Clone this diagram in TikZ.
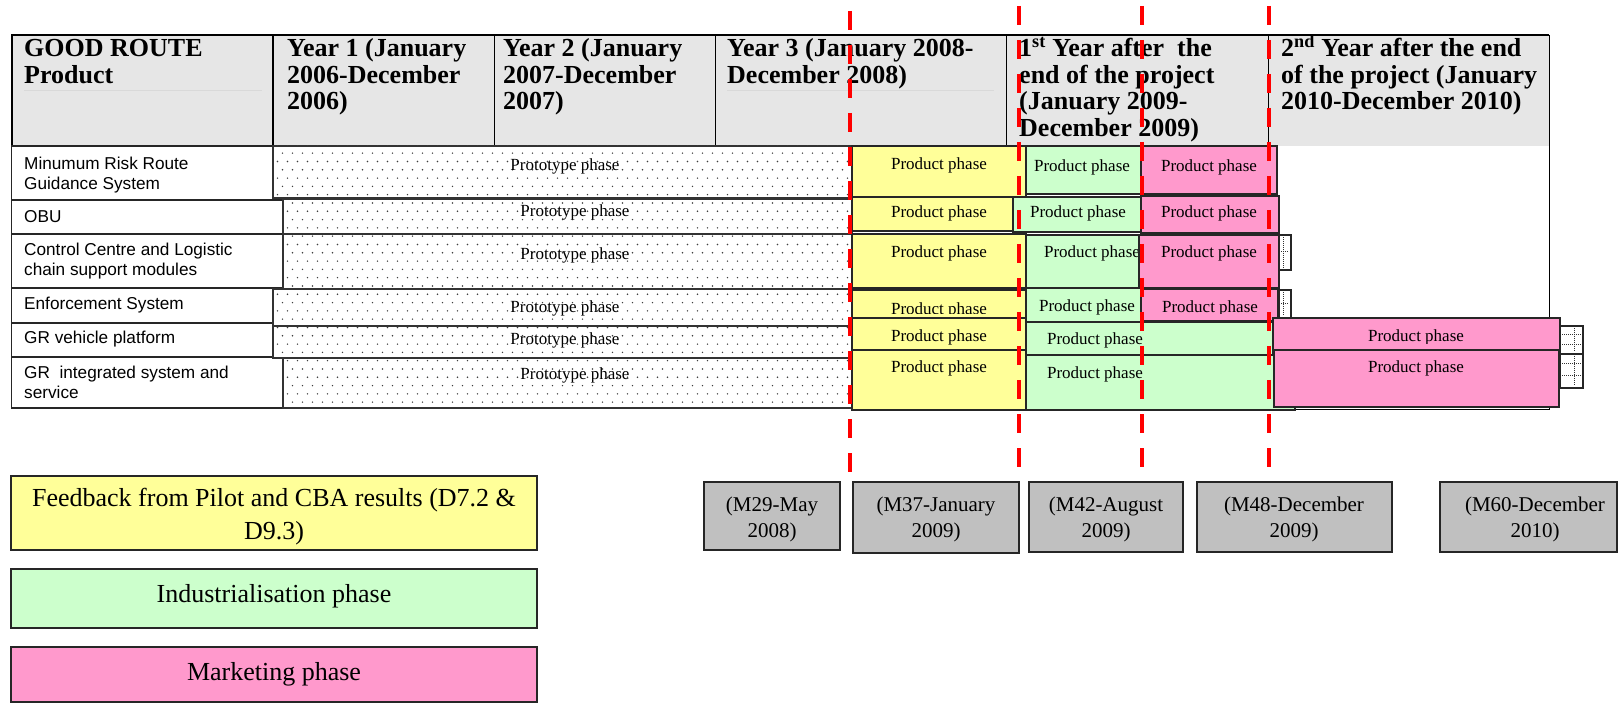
\documentclass[tikz,border=0pt]{standalone}
\usepackage{fontspec}
\setmainfont{Liberation Serif}
\newfontfamily\arialfont{Liberation Sans}
\usetikzlibrary{patterns}
\definecolor{ylw}{RGB}{255,255,153}
\definecolor{grn}{RGB}{204,255,204}
\definecolor{pnk}{RGB}{255,153,204}
\definecolor{hdr}{RGB}{230,230,230}
\definecolor{msg}{RGB}{192,192,192}
\pgfdeclarepatternformonly{protodots}{\pgfqpoint{-1pt}{-1pt}}{\pgfqpoint{11pt}{17.6pt}}{\pgfqpoint{10pt}{16.6pt}}{%
  \pgfpathcircle{\pgfqpoint{2.5pt}{2pt}}{0.8pt}%
  \pgfpathcircle{\pgfqpoint{7.5pt}{10.3pt}}{0.8pt}%
  \pgfusepath{fill}}
\newcommand\bx[6]{\node[#2,anchor=north west,inner sep=0pt,outer sep=0pt,minimum width={(#5-#3)*1pt},minimum height={(#6-#4)*1pt}] (#1) at (#3,#4) {};}
\newcommand\ml[1]{\parbox[t]{600pt}{\raggedright #1}}
\newcommand\mc[2]{\parbox[t]{#1}{\centering #2}}
\begin{document}
\begin{tikzpicture}[x=1pt,y=-1pt,
  box/.style={draw=black!85, line width=1.5pt},
  ybox/.style={box, fill=ylw},
  gbox/.style={box, fill=grn},
  pbox/.style={box, fill=pnk},
  lbox/.style={box, fill=white},
  mbox/.style={box, fill=msg},
  proto/.style={draw=black!80, line width=1.2pt, fill=white, postaction={pattern=protodots, pattern color=black!75}},
  tinybox/.style={draw=black!85, line width=1.2pt, fill=white},
  tinydots/.style={densely dotted, line width=1pt, black!80},
  ptext/.style={anchor=base, inner sep=0pt, font=\fontsize{17}{20}\selectfont},
  rtext/.style={anchor=base west, inner sep=0pt, font=\arialfont\fontsize{17.2}{20}\selectfont},
  htext/.style={anchor=base west, inner sep=0pt, font=\fontsize{26}{26.5}\selectfont\bfseries},
  mtext/.style={anchor=base, inner sep=0pt, font=\fontsize{21}{26}\selectfont},
  ltext/.style={anchor=base, inner sep=0pt, font=\fontsize{26}{33}\selectfont},
  redline/.style={draw=red, line width=4pt, dash pattern=on 19pt off 15pt},
  gridline/.style={draw=black, line width=1pt},
  thickline/.style={draw=black, line width=2pt},
]
\useasboundingbox (0,0) rectangle (1618,703);

% ---- table frame and header ----
\fill[hdr] (11.7,35) rectangle (1549,146);
\draw[gridline] (1549,35) -- (1549,409) -- (1294,409);
\draw[thickline] (11.7,409) -- (11.7,35) -- (1549,35);
\draw[thickline] (272.7,35) -- (272.7,146);
\draw[gridline] (494.5,35) -- (494.5,146);
\draw[gridline] (715,35) -- (715,146);
\draw[gridline] (1006,35) -- (1006,146);
\draw[gridline] (1268,35) -- (1268,146);
\draw[white!85!black, line width=0.6pt] (24,90) -- (262,90);
\draw[white!85!black, line width=0.6pt] (727,90) -- (994,90);

\node[htext] (h0) at (24,57) {\ml{GOOD ROUTE\\Product}};
\node[htext] (h1) at (287,57) {\ml{Year 1 (January\\2006-December\\2006)}};
\node[htext] (h2) at (503,57) {\ml{Year 2 (January\\2007-December\\2007)}};
\node[htext] (h3) at (727,57) {\ml{Year 3 (January 2008-\\December 2008)}};
\node[htext] (h4) at (1019,57) {\ml{1\textsuperscript{st} Year after\ \ the\\end of the project\\(January 2009-\\December 2009)}};
\node[htext] (h5) at (1281,57) {\ml{2\textsuperscript{nd} Year after the end\\of the project (January\\2010-December 2010)}};

% ---- row labels ----
\bx{L1}{lbox}{11.7}{146}{273}{200}
\bx{L2}{lbox}{11.7}{200}{283}{234}
\bx{L3}{lbox}{11.7}{234}{283}{288}
\bx{L4}{lbox}{11.7}{288}{273}{323}
\bx{L5}{lbox}{11.7}{323}{273}{357}
\bx{L6}{lbox}{11.7}{357}{283}{408}
\node[rtext] (l1) at (24,170) {\ml{Minumum Risk Route\\Guidance System}};
\node[rtext] (l2) at (24,223) {OBU};
\node[rtext] (l3) at (24,256) {\ml{Control Centre and Logistic\\chain support modules}};
\node[rtext] (l4) at (24,310) {Enforcement System};
\node[rtext] (l5) at (24,344) {GR vehicle platform};
\node[rtext] (l6) at (24,379) {\ml{GR\ \ integrated system and\\service}};

% ---- prototype bars ----
\bx{P1}{proto}{273}{146}{852}{198}
\bx{P2}{proto}{283}{199}{852}{234}
\bx{P3}{proto}{283}{234}{852}{289}
\bx{P4}{proto}{273}{289}{852}{326}
\bx{P5}{proto}{273}{326}{852}{358}
\bx{P6}{proto}{283}{358}{852}{408}
\node[ptext] (p1) at (565,171) {Prototype phase};
\node[ptext] (p2) at (575,217) {Prototype phase};
\node[ptext] (p3) at (575,260) {Prototype phase};
\node[ptext] (p4) at (565,313) {Prototype phase};
\node[ptext] (p5) at (565,345) {Prototype phase};
\node[ptext] (p6) at (575,380) {Prototype phase};

% ---- row 1 ----
\bx{Y1}{ybox}{852}{146}{1026}{197}
\node[ptext] (y1) at (939,170) {Product phase};
\bx{G1}{gbox}{1026}{146}{1141}{194}
\node[ptext] (g1) at (1082,172) {Product phase};
\bx{K1}{pbox}{1141}{146}{1277}{194}
\node[ptext] (k1) at (1209,172) {Product phase};
% ---- row 2 ----
\bx{Y2}{ybox}{852}{197}{1013}{231}
\node[ptext] (y2) at (939,218) {Product phase};
\bx{G2}{gbox}{1013}{197}{1141}{232}
\node[ptext] (g2) at (1078,218) {Product phase};
\bx{K2}{pbox}{1141}{196}{1279}{233}
\node[ptext] (k2) at (1209,218) {Product phase};
% ---- row 3 ----
\bx{Y3}{ybox}{852}{234}{1026}{288}
\node[ptext] (y3) at (939,258) {Product phase};
\bx{G3}{gbox}{1026}{235}{1139}{288}
\node[ptext] (g3) at (1092,258) {Product phase};
\bx{K3}{pbox}{1139}{235}{1279}{288}
\node[ptext] (k3) at (1209,258) {Product phase};
\bx{D3}{tinybox}{1279}{235}{1291}{270}
\draw[tinydots] (1283,237) -- (1283,268);
\draw[tinydots] (1281,252) -- (1289,252);
% ---- row 4 ----
\bx{Y4}{ybox}{852}{290}{1026}{322}
\begin{scope}
\clip (852,290) rectangle (1026,314);
\node[ptext] (y4) at (939,315) {Product phase};
\end{scope}
\bx{G4}{gbox}{1026}{288}{1141}{322}
\node[ptext] (g4) at (1087,312) {Product phase};
\bx{K4}{pbox}{1141}{289}{1278}{321}
\begin{scope}
\clip (1141,289) rectangle (1278,314);
\node[ptext] (k4) at (1210,313) {Product phase};
\end{scope}
\bx{D4}{tinybox}{1279}{290}{1291}{318}
\draw[tinydots] (1283,292) -- (1283,316);
\draw[tinydots] (1281,304) -- (1289,304);
% ---- row 5 ----
\bx{Y5}{ybox}{852}{318}{1026}{350}
\node[ptext] (y5) at (939,342) {Product phase};
\bx{G5}{gbox}{1026}{322}{1273}{355}
\node[ptext] (g5) at (1095,345) {Product phase};
\bx{K5}{pbox}{1273}{318}{1560}{350}
\begin{scope}
\clip (1273,318) rectangle (1560,344);
\node[ptext] (k5) at (1416,342) {Product phase};
\end{scope}
\bx{D5}{tinybox}{1560}{326}{1583}{354}
\draw[tinydots] (1574,328) -- (1574,352);
\draw[tinydots] (1562,335) -- (1581,335);
\draw[tinydots] (1562,345) -- (1581,345);
% ---- row 6 ----
\bx{Y6}{ybox}{852}{350}{1026}{410}
\node[ptext] (y6) at (939,373) {Product phase};
\bx{G6}{gbox}{1026}{355}{1295}{410}
\node[ptext] (g6) at (1095,379) {Product phase};
\bx{K6}{pbox}{1274}{350}{1559}{407}
\node[ptext] (k6) at (1416,373) {Product phase};
\bx{D6}{tinybox}{1560}{354}{1583}{388}
\draw[tinydots] (1574,356) -- (1574,386);
\draw[tinydots] (1562,364) -- (1581,364);
\draw[tinydots] (1562,376) -- (1581,376);

% ---- milestones ----
\bx{M1}{mbox}{704}{482}{840}{550}
\node[mtext] (m1) at (772,511) {\mc{130pt}{(M29-May\\2008)}};
\bx{M2}{mbox}{853}{482}{1019}{553}
\node[mtext] (m2) at (936,511) {\mc{160pt}{(M37-January\\2009)}};
\bx{M3}{mbox}{1029}{482}{1183}{552}
\node[mtext] (m3) at (1106,511) {\mc{150pt}{(M42-August\\2009)}};
\bx{M4}{mbox}{1197}{482}{1392}{552}
\node[mtext] (m4) at (1294,511) {\mc{190pt}{(M48-December\\2009)}};
\bx{M5}{mbox}{1440}{482}{1617}{552}
\node[mtext] (m5) at (1535,511) {\mc{170pt}{(M60-December\\2010)}};

% ---- legend ----
\bx{LY}{ybox}{11}{476}{537}{550}
\node[ltext] (ly) at (274,506) {\mc{520pt}{Feedback from Pilot and CBA results (D7.2 \&\\D9.3)}};
\bx{LG}{gbox}{11}{569}{537}{628}
\node[ltext] (lg) at (274,602) {Industrialisation phase};
\bx{LP}{pbox}{11}{647}{537}{702}
\node[ltext] (lp) at (274,680) {Marketing phase};

% ---- red milestone lines ----
\coordinate (r1t) at (850,11);   \coordinate (r1b) at (850,472);
\coordinate (r2t) at (1019,6);   \coordinate (r2b) at (1019,468);
\coordinate (r3t) at (1142,6);   \coordinate (r3b) at (1142,468);
\coordinate (r4t) at (1269,6);   \coordinate (r4b) at (1269,468);
\draw[redline] (r1t) -- (r1b);
\draw[redline] (r2t) -- (r2b);
\draw[redline] (r3t) -- (r3b);
\draw[redline] (r4t) -- (r4b);
\end{tikzpicture}
\end{document}
